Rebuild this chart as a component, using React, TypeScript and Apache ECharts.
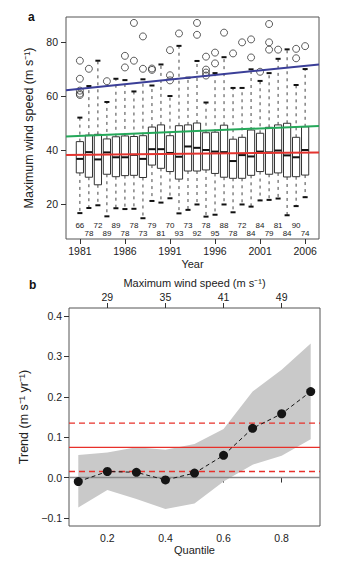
import React, { useEffect, useRef } from "react";
import * as echarts from "echarts";

// ---------- Panel a: annual distributions of maximum wind speed ----------
const years = [1981, 1982, 1983, 1984, 1985, 1986, 1987, 1988, 1989, 1990, 1991, 1992, 1993, 1994, 1995, 1996, 1997, 1998, 1999, 2000, 2001, 2002, 2003, 2004, 2005, 2006];
const lowWhisker = [16.6, 18.5, 19.5, 15.4, 18.4, 18.1, 18.2, 14.7, 21.1, 20.5, 22.1, 16.5, 17.8, 19.8, 15.3, 16.0, 19.8, 16.9, 19.8, 19.0, 21.3, 21.5, 22.0, 15.8, 19.2, 22.5];
const q1 = [31.5, 29.9, 27.1, 31.0, 30.1, 30.5, 30.6, 29.8, 34.4, 33.2, 32.0, 29.2, 32.2, 32.2, 32.6, 31.3, 29.9, 29.5, 29.5, 30.6, 32.0, 31.0, 31.5, 30.0, 30.1, 30.7];
const median = [36.7, 39.2, 36.5, 39.1, 37.3, 37.3, 38.2, 36.7, 40.3, 40.3, 38.9, 37.5, 41.3, 40.8, 40.0, 39.4, 39.2, 35.9, 38.1, 37.6, 39.4, 39.1, 39.8, 38.0, 37.3, 40.0];
const q3 = [43.1, 45.5, 45.8, 44.1, 44.9, 45.2, 45.0, 45.3, 48.5, 49.3, 45.3, 49.0, 49.3, 50.0, 46.4, 46.6, 49.2, 44.0, 44.7, 47.4, 46.2, 48.4, 49.3, 49.9, 44.7, 48.6];
const highWhisker = [52.0, 63.7, 73.1, 57.8, 66.4, 65.9, 61.7, 66.2, 63.9, 71.7, 60.0, 78.6, 66.8, 73.0, 57.6, 68.5, 74.4, 63.0, 63.0, 69.9, 65.6, 68.5, 73.8, 77.3, 64.1, 70.0];
const outliers: number[][] = [
  [73.1, 66.4, 62.0, 60.9, 60.4],
  [70.1],
  [],
  [65.5],
  [],
  [74.9, 70.6],
  [87.1, 73.1],
  [82.1, 70.1],
  [70.2, 69.7],
  [],
  [77.0, 67.7, 65.8],
  [83.2],
  [],
  [87.1, 82.7],
  [74.6, 69.8, 68.7, 67.6],
  [76.1, 72.1],
  [83.5],
  [75.8],
  [79.9],
  [81.0, 74.3],
  [69.0],
  [86.7, 79.9, 77.2],
  [77.2],
  [],
  [77.5, 74.0],
  [78.5],
];
const counts = [66, 78, 72, 89, 89, 78, 78, 73, 79, 81, 70, 93, 73, 92, 78, 95, 88, 78, 72, 84, 84, 79, 81, 84, 90, 74];
const yearTicks = [1981, 1986, 1991, 1996, 2001, 2006];
const speedTicks = [20, 40, 60, 80];
// trend lines: value at 1981 and at 2006
const trendColors = ["#3b3f98", "#25a85a", "#e3342f"];
const trendAt1981 = [62.7, 45.2, 38.15];
const trendAt2006 = [71.2, 48.7, 39.05];

// ---------- Panel b: trend by quantile ----------
const quantiles = [0.1, 0.2, 0.3, 0.4, 0.5, 0.6, 0.7, 0.8, 0.9];
const quantileTrend = [-0.01, 0.015, 0.013, -0.006, 0.011, 0.055, 0.122, 0.158, 0.213];
const bandUpper = [0.056, 0.062, 0.075, 0.069, 0.083, 0.12, 0.213, 0.267, 0.332];
const bandLower = [-0.074, -0.031, -0.053, -0.078, -0.064, -0.01, 0.032, 0.054, 0.095];
const meanTrend = 0.075;
const meanTrendCI = [0.015, 0.135];
const quantileTicks = [0.2, 0.4, 0.6, 0.8];
const speedAtQuantile = [29, 35, 41, 49];
const trendTicks = [-0.1, 0, 0.1, 0.2, 0.3, 0.4];

const FONT = "'Liberation Sans', Arial, Helvetica, sans-serif";
const TXT = "#222";
const XA_MIN = 1979.46, XA_MAX = 2007.54, YA_MIN = 7, YA_MAX = 89.3;
const XB_MIN = 0.068, XB_MAX = 0.932, YB_MIN = -0.12, YB_MAX = 0.42;
const COUNT_ROW_Y = [12.0, 9.15];

function lineAt(i: number, x: number) {
  const slope = (trendAt2006[i] - trendAt1981[i]) / (2006 - 1981);
  return trendAt1981[i] + slope * (x - 1981);
}

const tickStyle = { show: true, length: 5, lineStyle: { color: "#333", width: 1 } };
const labelBase = { color: TXT, fontSize: 10.5, fontFamily: FONT };

export default function App() {
  const ref = useRef<HTMLDivElement>(null);
  useEffect(() => {
    const chart = echarts.init(ref.current!, null, { renderer: "svg" });
    const boxData = years.map((y, i) => [y, lowWhisker[i], q1[i], median[i], q3[i], highWhisker[i]]);
    const outlierData: number[][] = [];
    years.forEach((y, i) => outliers[i].forEach((v) => outlierData.push([y, v])));

    const option: any = {
      animation: false,
      backgroundColor: "#fff",
      textStyle: { fontFamily: FONT },
      grid: [
        { left: 66, top: 17, width: 253, height: 222, show: true, borderColor: "#555", borderWidth: 1, backgroundColor: "transparent" },
        { left: 69, top: 308, width: 251, height: 218, show: true, borderColor: "#555", borderWidth: 1, backgroundColor: "transparent" },
      ],
      xAxis: [
        {
          gridIndex: 0, type: "value", min: XA_MIN, max: XA_MAX,
          axisLine: { show: false }, splitLine: { show: false },
          axisTick: { ...tickStyle, customValues: yearTicks },
          axisLabel: { ...labelBase, customValues: yearTicks, margin: 6, formatter: (v: number) => String(v) },
          name: "Year", nameLocation: "middle", nameGap: 19,
          nameTextStyle: { color: TXT, fontSize: 11, fontFamily: FONT },
        },
        {
          gridIndex: 1, type: "value", min: XB_MIN, max: XB_MAX,
          axisLine: { show: false }, splitLine: { show: false },
          axisTick: { ...tickStyle, customValues: quantileTicks },
          axisLabel: { ...labelBase, customValues: quantileTicks, margin: 6, formatter: (v: number) => v.toFixed(1) },
          name: "Quantile", nameLocation: "middle", nameGap: 18,
          nameTextStyle: { color: TXT, fontSize: 11, fontFamily: FONT },
        },
        {
          gridIndex: 1, type: "value", position: "top", min: XB_MIN, max: XB_MAX,
          axisLine: { show: false }, splitLine: { show: false },
          axisTick: { ...tickStyle, customValues: quantileTicks },
          axisLabel: {
            ...labelBase, customValues: quantileTicks, margin: 6,
            formatter: (v: number) => {
              const i = quantileTicks.findIndex((q) => Math.abs(q - v) < 1e-6);
              return i >= 0 ? String(speedAtQuantile[i]) : "";
            },
          },
          name: "Maximum wind speed (m s\u207B\u00B9)", nameLocation: "middle", nameGap: 20,
          nameTextStyle: { color: TXT, fontSize: 11, fontFamily: FONT },
        },
      ],
      yAxis: [
        {
          gridIndex: 0, type: "value", min: YA_MIN, max: YA_MAX,
          axisLine: { show: false }, splitLine: { show: false },
          axisTick: { ...tickStyle, customValues: speedTicks },
          axisLabel: { ...labelBase, customValues: speedTicks, margin: 8 },
          name: "Maximum wind speed (m s\u207B\u00B9)", nameLocation: "middle", nameGap: 24,
          nameTextStyle: { color: TXT, fontSize: 12.5, fontFamily: FONT },
        },
        {
          gridIndex: 1, type: "value", min: YB_MIN, max: YB_MAX,
          axisLine: { show: false }, splitLine: { show: false },
          axisTick: { ...tickStyle, customValues: trendTicks },
          axisLabel: {
            ...labelBase, customValues: trendTicks, margin: 7,
            formatter: (v: number) => (v < -1e-9 ? "\u2212" + Math.abs(v).toFixed(1) : Math.abs(v).toFixed(1)),
          },
          name: "Trend (m s\u207B\u00B9 yr\u207B\u00B9)", nameLocation: "middle", nameGap: 27,
          nameTextStyle: { color: TXT, fontSize: 12.5, fontFamily: FONT },
        },
      ],
      graphic: [
        { type: "text", x: 28, y: 11, style: { text: "a", fontSize: 12, fontWeight: "bold", fill: "#111", fontFamily: FONT } },
        { type: "text", x: 29, y: 279, style: { text: "b", fontSize: 12, fontWeight: "bold", fill: "#111", fontFamily: FONT } },
      ],
      series: [
        {
          type: "custom", xAxisIndex: 0, yAxisIndex: 0, data: boxData, z: 2,
          renderItem: (params: any, api: any) => {
            const x = api.value(0);
            const pLow = api.coord([x, api.value(1)]);
            const pQ1 = api.coord([x, api.value(2)]);
            const pMed = api.coord([x, api.value(3)]);
            const pQ3 = api.coord([x, api.value(4)]);
            const pHigh = api.coord([x, api.value(5)]);
            const bw = api.size([1, 0])[0] * 0.8;
            const cw = bw * 0.7;
            const cx = pMed[0];
            const dash = { stroke: "#444", lineWidth: 1, lineDash: [3, 4] };
            const cap = { stroke: "#111", lineWidth: 2 };
            return {
              type: "group",
              children: [
                { type: "line", shape: { x1: cx, y1: pQ3[1], x2: cx, y2: pHigh[1] }, style: dash },
                { type: "line", shape: { x1: cx, y1: pQ1[1], x2: cx, y2: pLow[1] }, style: dash },
                { type: "line", shape: { x1: cx - cw / 2, y1: pHigh[1], x2: cx + cw / 2, y2: pHigh[1] }, style: cap },
                { type: "line", shape: { x1: cx - cw / 2, y1: pLow[1], x2: cx + cw / 2, y2: pLow[1] }, style: cap },
                { type: "rect", shape: { x: cx - bw / 2, y: pQ3[1], width: bw, height: pQ1[1] - pQ3[1] }, style: { fill: "#fff", stroke: "#333", lineWidth: 1 } },
                { type: "line", shape: { x1: cx - bw / 2, y1: pMed[1], x2: cx + bw / 2, y2: pMed[1] }, style: { stroke: "#111", lineWidth: 2 } },
              ],
            };
          },
        },
        {
          type: "scatter", xAxisIndex: 0, yAxisIndex: 0, data: outlierData, z: 3,
          symbol: "circle", symbolSize: 7,
          itemStyle: { color: "rgba(0,0,0,0)", borderColor: "#333", borderWidth: 1 },
        },
        ...trendColors.map((c, i) => ({
          type: "line", xAxisIndex: 0, yAxisIndex: 0, z: 4,
          data: [[XA_MIN, lineAt(i, XA_MIN)], [XA_MAX, lineAt(i, XA_MAX)]],
          symbol: "none", lineStyle: { color: c, width: 2 },
        })),
        {
          type: "custom", xAxisIndex: 0, yAxisIndex: 0, z: 5,
          data: years.map((y, i) => [y, counts[i], i % 2]),
          renderItem: (params: any, api: any) => {
            const p = api.coord([api.value(0), COUNT_ROW_Y[api.value(2)]]);
            return {
              type: "text", x: p[0], y: p[1],
              style: { text: String(api.value(1)), fontSize: 8, fill: TXT, align: "center", verticalAlign: "middle", fontFamily: FONT },
            };
          },
        },
        // Panel b
        {
          type: "custom", xAxisIndex: 1, yAxisIndex: 1, z: 1,
          data: [[quantiles[0], bandLower[0]]],
          renderItem: (params: any, api: any) => {
            const pts = quantiles.map((q, i) => api.coord([q, bandUpper[i]]));
            for (let i = quantiles.length - 1; i >= 0; i--) pts.push(api.coord([quantiles[i], bandLower[i]]));
            return { type: "polygon", shape: { points: pts }, style: { fill: "#c9c9c9", stroke: "none" } };
          },
        },
        {
          type: "line", xAxisIndex: 1, yAxisIndex: 1, z: 2,
          data: [[XB_MIN, 0], [XB_MAX, 0]], symbol: "none",
          lineStyle: { color: "#8a8a8a", width: 1.5 },
        },
        {
          type: "line", xAxisIndex: 1, yAxisIndex: 1, z: 3,
          data: [[XB_MIN, meanTrend], [XB_MAX, meanTrend]], symbol: "none",
          lineStyle: { color: "#e8302a", width: 1.3 },
        },
        ...meanTrendCI.map((v) => ({
          type: "line", xAxisIndex: 1, yAxisIndex: 1, z: 3,
          data: [[XB_MIN, v], [XB_MAX, v]], symbol: "none",
          lineStyle: { color: "#e8302a", width: 1.3, type: [6, 4] },
        })),
        {
          type: "line", xAxisIndex: 1, yAxisIndex: 1, z: 4,
          data: quantiles.map((q, i) => [q, quantileTrend[i]]),
          symbol: "circle", symbolSize: 9,
          itemStyle: { color: "#151515" },
          lineStyle: { color: "#151515", width: 1, type: [4, 3] },
        },
      ],
    };
    chart.setOption(option);
    return () => chart.dispose();
  }, []);
  return <div ref={ref} style={{ position: "fixed", left: 0, top: 0, width: 353, height: 562 }} />;
}
